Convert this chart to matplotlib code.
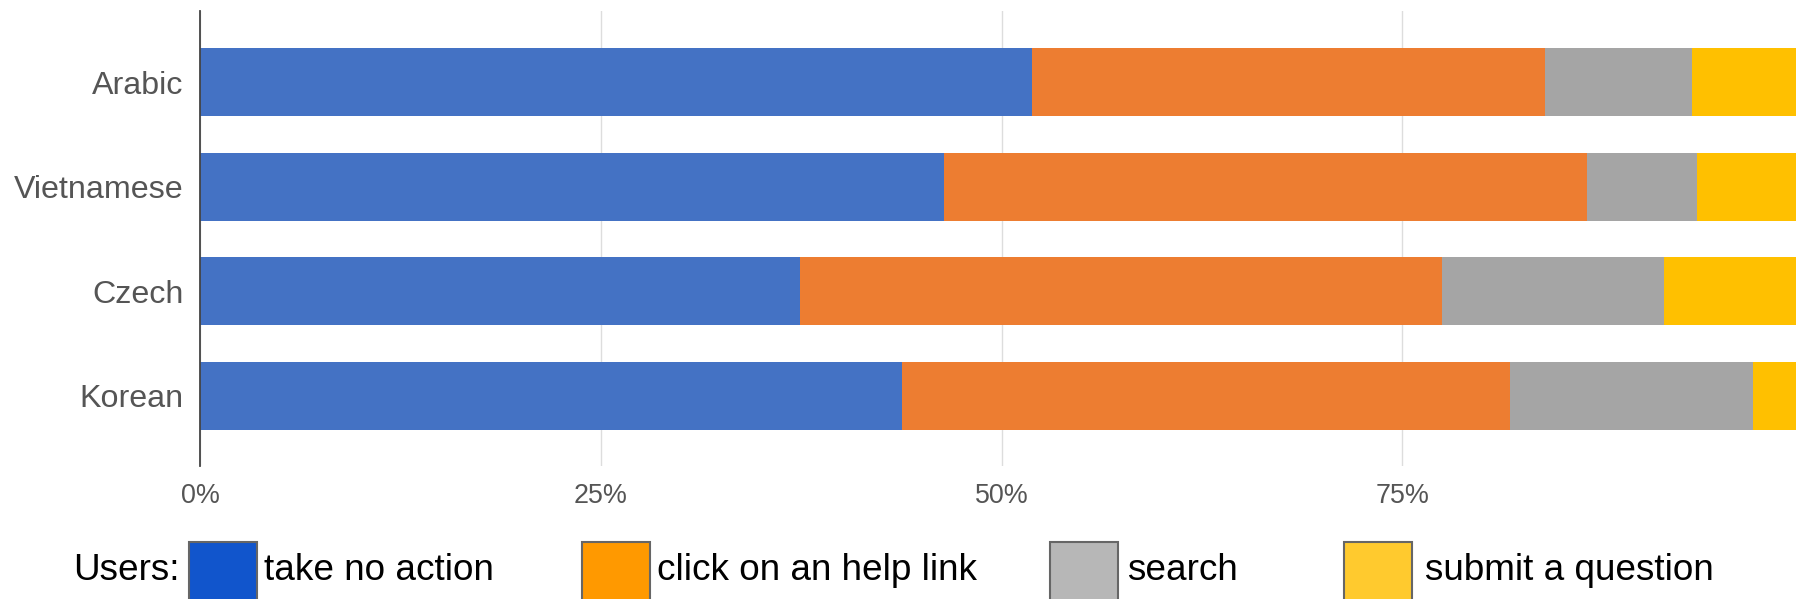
import matplotlib.pyplot as plt
from matplotlib.patches import Rectangle

plt.rcParams['font.family'] = ['Liberation Sans', 'DejaVu Sans']

# データ（上から順）
languages = ['Arabic', 'Vietnamese', 'Czech', 'Korean']
no_action = [51.9, 46.4, 37.4, 43.8]
help_link = [32.0, 40.1, 40.1, 37.9]
search = [9.2, 6.9, 13.8, 15.2]
question = [6.9, 6.6, 8.7, 3.1]

series_labels = ['take no action', 'click on an help link', 'search', 'submit a question']
bar_colors = ['#4472C4', '#ED7D31', '#A5A5A5', '#FFC000']
legend_colors = ['#1155CC', '#FF9900', '#B7B7B7', '#FFCA2E']
x_ticks = [0, 25, 50, 75]
x_tick_labels = ['0%', '25%', '50%', '75%']

W, H = 1796, 599
fig = plt.figure(figsize=(W / 100, H / 100), dpi=100)
ax = fig.add_axes([200 / W, 1 - 466 / H, 1 - 200 / W, (466 - 10.7) / H])

ypos = list(range(len(languages)))
left = [0.0] * len(languages)
for vals, col in zip([no_action, help_link, search, question], bar_colors):
    ax.barh(ypos, vals, left=left, height=0.65, color=col, zorder=2)
    left = [a + b for a, b in zip(left, vals)]

ax.set_xlim(0, 99.56)
ax.set_ylim(3.67, -0.685)
ax.set_yticks(ypos)
ax.set_yticklabels(languages, fontsize=23.2, color='#555555')
ax.set_xticks(x_ticks)
ax.set_xticklabels(x_tick_labels, fontsize=19.4, color='#555555')
ax.tick_params(axis='y', length=0, pad=12)
ax.tick_params(axis='x', length=0, pad=12)
ax.grid(axis='x', color='#DDDDDD', linewidth=1.0, zorder=0)
ax.set_axisbelow(True)
for s in ['top', 'right', 'bottom']:
    ax.spines[s].set_visible(False)
ax.spines['left'].set_color('#444444')
ax.spines['left'].set_linewidth(1.3)
ax.spines['left'].set_zorder(3)

# 凡例（手描き）
text_y = 1 - 570 / H
fig.text(73 / W, text_y, 'Users:', fontsize=26.6, color='black', va='center', ha='left')
box_lefts = [189, 581.5, 1050, 1344]
label_lefts = [264, 657, 1127, 1425]
for bl, tl, col, lab in zip(box_lefts, label_lefts, legend_colors, series_labels):
    fig.patches.append(Rectangle((bl / W, 1 - 610 / H), 68 / W, 68 / H,
                                 transform=fig.transFigure, facecolor=col,
                                 edgecolor='#666666', linewidth=1.5))
    fig.text(tl / W, text_y, lab, fontsize=26.6, color='black', va='center', ha='left')

fig.savefig('out.png', dpi=100)
